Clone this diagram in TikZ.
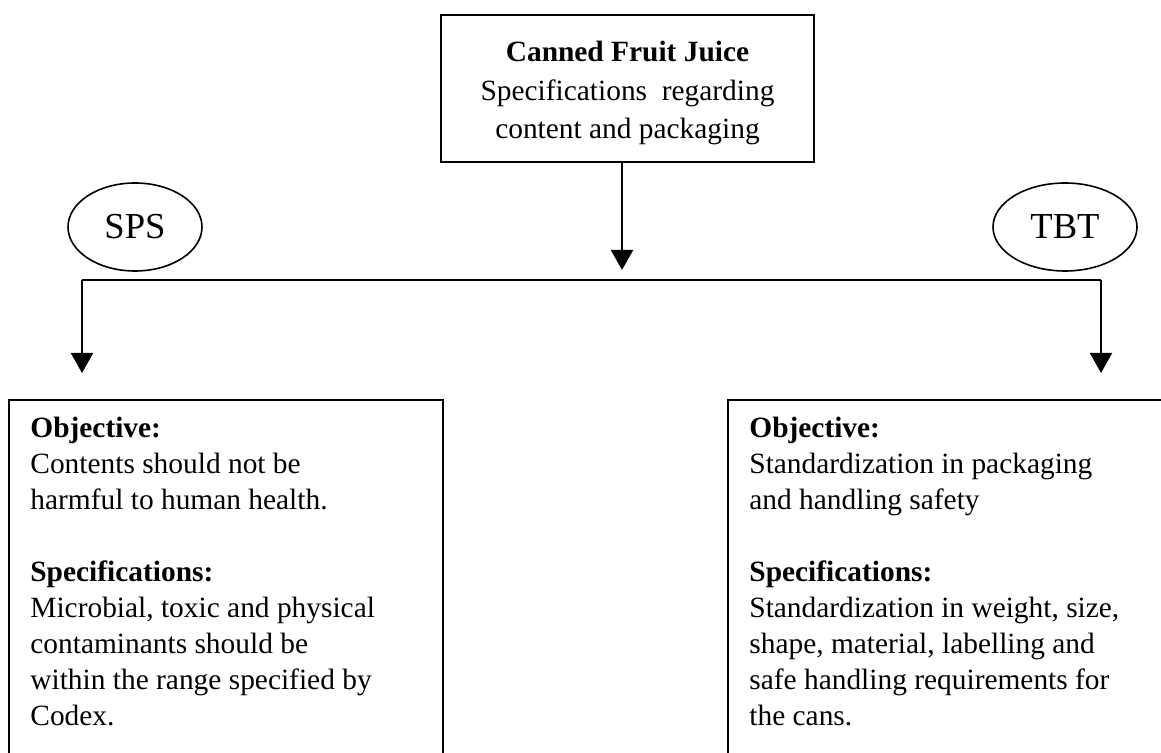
\documentclass[tikz,border=0pt]{standalone}
\usepackage{fontspec}
\setmainfont{Liberation Serif}
\usetikzlibrary{shapes.geometric,arrows.meta,positioning,calc}
\tikzset{
  boxline/.style={line width=1pt},
  headbox/.style={draw, line width=0.9pt, minimum width=186.5pt, minimum height=73.5pt,
    align=center, inner sep=0pt, font=\fontsize{14.7}{19.25}\selectfont},
  agree/.style={draw, ellipse, line width=0.8pt, inner sep=0pt, minimum height=44pt,
    font=\fontsize{18.3}{22}\selectfont},
  bodytext/.style={anchor=base west, align=left, inner sep=0pt,
    font=\fontsize{14.7}{18}\selectfont},
  flow/.style={line width=1pt, -{Triangle[length=10pt,width=11pt]}},
}
\begin{document}
\begin{tikzpicture}[x=0.5pt,y=-0.5pt]
    \useasboundingbox (0,0) rectangle (1161,753);
    \node[headbox] (juice) at (627.5,88.5)
        {\rule{0pt}{15pt}\textbf{Canned Fruit Juice}\\Specifications\ \ regarding\\content and packaging};
    \node[agree, minimum width=67pt] (sps) at (135,227) {SPS};
    \node[agree, minimum width=72pt] (tbt) at (1065,227) {TBT};
    \coordinate (barL) at (82,280);
    \coordinate (barR) at (1101,280);
    \coordinate (barM) at (622,280);
    \coordinate (spstop) at (82,400);
    \coordinate (tbttop) at (1101,400);
    \draw[boxline] (barL) -- (barR);
    \draw[flow, shorten >=5pt] (juice.south -| barM) -- (barM);
    \draw[flow, shorten >=13.5pt] (barL) -- (spstop);
    \draw[flow, shorten >=13.5pt] (barR) -- (tbttop);
    \draw[boxline] (9,760) -- (9,400) -- (443,400) -- (443,760);
    \draw[boxline] (728,760) -- (728,400) -- (1170,400);
    % last baseline given, the rest stack up from it
    \node[bodytext] (spsbody) at (30,725)
        {\textbf{Objective:}\\Contents should not be\\harmful to human health.\\[18pt]
         \textbf{Specifications:}\\Microbial, toxic and physical\\contaminants should be\\
         within the range specified by\\Codex.};
    \node[bodytext] (tbtbody) at (749,725)
        {\textbf{Objective:}\\Standardization in packaging\\and handling safety\\[18pt]
         \textbf{Specifications:}\\Standardization in weight, size,\\shape, material, labelling and\\
         safe handling requirements for\\the cans.};
\end{tikzpicture}
\end{document}
